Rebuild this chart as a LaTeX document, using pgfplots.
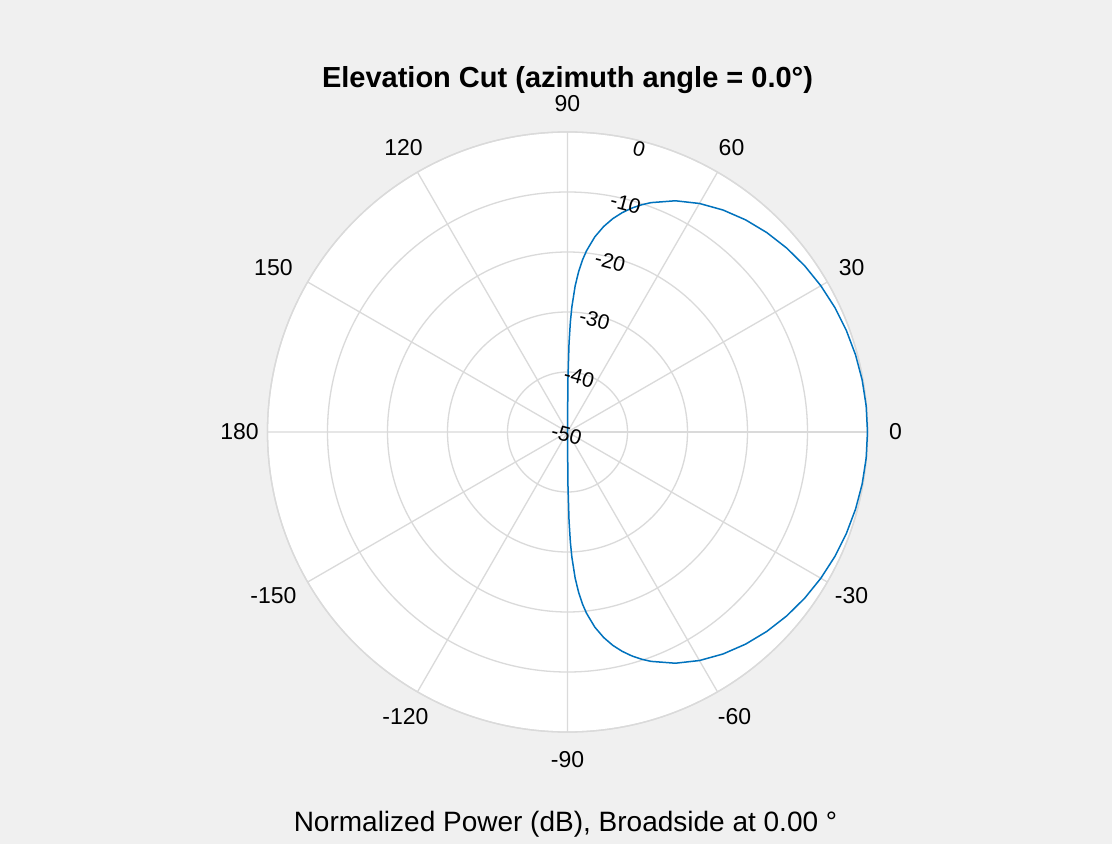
\documentclass[border=0pt]{standalone}
\usepackage{pgfplots}
\pgfplotsset{compat=1.18}
\usepgfplotslibrary{polar}
\usepackage{fontspec}
\setmainfont{Liberation Sans}
\definecolor{figbg}{RGB}{240,240,240}
\definecolor{gridgray}{RGB}{218,218,218}
\definecolor{mblue}{RGB}{0,114,189}
\tikzset{alab/.style={font=\fontsize{11.5}{14}\selectfont},
         rlab/.style={font=\fontsize{10.5}{12}\selectfont, rotate=-15}}

\begin{document}
\begin{tikzpicture}
\fill[figbg] (-283.75pt,-206pt) rectangle (272.25pt,216pt);
\begin{polaraxis}[
  at={(0,0)}, anchor=origin,
  scale only axis, width=300pt, height=300pt,
  xmin=0, xmax=360, ymin=0, ymax=50,
  xtick={0,30,...,330}, ytick={10,20,...,50},
  xticklabels={}, yticklabels={},
  grid=major,
  major grid style={draw=gridgray, line width=0.65pt},
  axis line style={draw=gridgray, line width=0.65pt},
  major tick length=0pt,
  axis background/.style={fill=white},
  clip=false,
]
% elevation angle (deg), normalized power + 50 dB
\addplot[mblue, line width=0.75pt, no markers] coordinates {
(-90,0) (-89.8,0.86) (-89.5,8.82) (-89,14.84) (-88.5,18.36) (-88,20.86)
(-87,24.38) (-86,26.87) (-85,28.81) (-84,30.38) (-82,32.87) (-80,34.79)
(-78,36.36) (-76,37.67) (-74,38.81) (-72,39.80) (-70,40.68) (-65,42.52)
(-60,43.98) (-55,45.17) (-50,46.16) (-45,46.99) (-40,47.69) (-35,48.27)
(-30,48.75) (-25,49.15) (-20,49.46) (-15,49.70) (-10,49.87) (-5,49.97)
(0,50)
(5,49.97) (10,49.87) (15,49.70) (20,49.46) (25,49.15) (30,48.75)
(35,48.27) (40,47.69) (45,46.99) (50,46.16) (55,45.17) (60,43.98)
(65,42.52) (70,40.68) (72,39.80) (74,38.81) (76,37.67) (78,36.36)
(80,34.79) (82,32.87) (84,30.38) (85,28.81) (86,26.87) (87,24.38)
(88,20.86) (88.5,18.36) (89,14.84) (89.5,8.82) (89.8,0.86) (90,0)
};
% angle labels
\node[alab] at (axis cs:0,54.67) {0};
\node[alab] at (axis cs:30,54.67) {30};
\node[alab] at (axis cs:60,54.67) {60};
\node[alab] at (axis cs:90,54.67) {90};
\node[alab] at (axis cs:120,54.67) {120};
\node[alab, xshift=-5pt] at (axis cs:150,54.67) {150};
\node[alab] at (axis cs:180,54.67) {180};
\node[alab, xshift=-5pt] at (axis cs:210,54.67) {-150};
\node[alab, xshift=1pt] at (axis cs:240,54.67) {-120};
\node[alab] at (axis cs:270,54.67) {-90};
\node[alab, xshift=1.5pt] at (axis cs:300,54.67) {-60};
\node[alab] at (axis cs:330,54.67) {-30};
% magnitude labels
\node[rlab, xshift=-2pt, yshift=-4pt] at (axis cs:75,50) {0};
\node[rlab, xshift=-1.5pt, yshift=-2pt] at (axis cs:75,40) {-10};
\node[rlab, xshift=-1.5pt, yshift=-2pt] at (axis cs:75,30) {-20};
\node[rlab, xshift=-1.5pt, yshift=-2pt] at (axis cs:75,20) {-30};
\node[rlab, xshift=-1.5pt, yshift=-2pt] at (axis cs:75,10) {-40};
\node[rlab, xshift=0pt, yshift=-1.5pt] at (axis cs:75,0) {-50};
\end{polaraxis}
\node[anchor=base, font=\bfseries\fontsize{14.5}{17}\selectfont] at (0,172pt) {Elevation Cut (azimuth angle = 0.0°)};
\node[anchor=base, font=\fontsize{14}{16}\selectfont] at (-1pt,-199.5pt) {Normalized Power (dB), Broadside at 0.00 °};
\pgfresetboundingbox
\path (-283.75pt,-206pt) rectangle (272.25pt,216pt);
\end{tikzpicture}
\end{document}
